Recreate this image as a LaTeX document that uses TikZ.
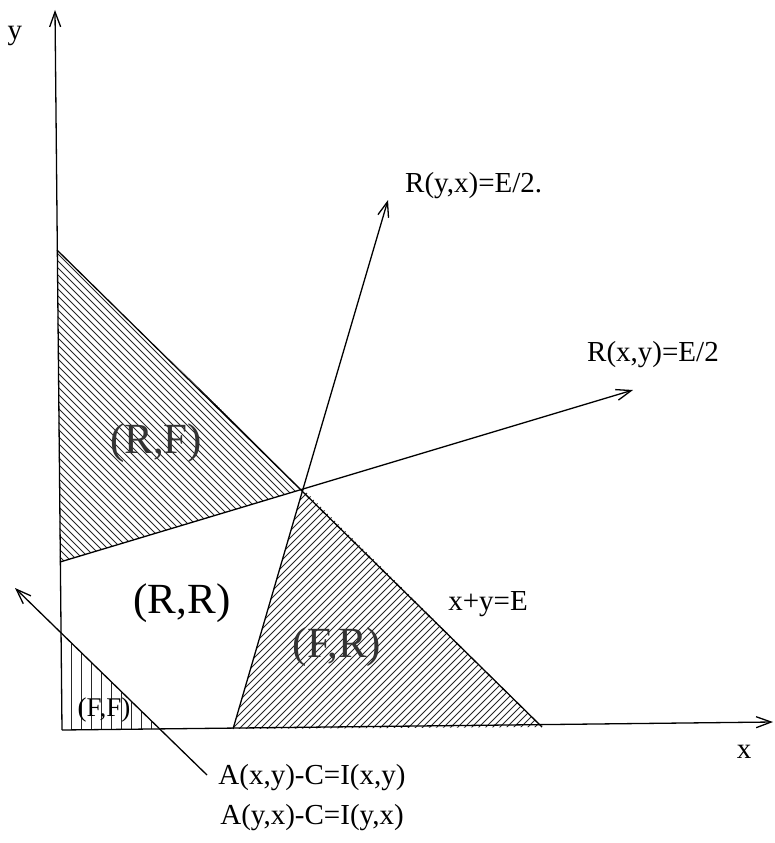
\documentclass[tikz,border=0pt]{standalone}
\usepackage{fontspec}
\setmainfont{Liberation Serif}
\usetikzlibrary{arrows.meta}

\begin{document}
\begin{tikzpicture}[
  x=1pt, y=-1pt,
  font=\fontsize{29}{34}\selectfont,
  linea/.style={draw=black, line width=1.3pt},
  freccia/.style={linea, -{Straight Barb[length=15pt,width=11pt,line width=1.3pt]}},
  tratto/.style={draw=black!85, line width=0.8pt},
  regione/.style={font=\fontsize{43}{48}\selectfont, text=black!80},
  etichetta/.style={inner sep=0pt}
]
\useasboundingbox (0,0) rectangle (774,843);

%--------------------------------------------------------------
% Punti notevoli
%--------------------------------------------------------------
\coordinate (O)  at (62,730);
\coordinate (Ymax) at (55,10);
\coordinate (Xmax) at (773,722);
\coordinate (Ey) at (57,250);
\coordinate (Ex) at (542,727);
\coordinate (P)  at (303,489);
\coordinate (Ry) at (60,562);
\coordinate (Rx) at (233,729);
\coordinate (Rxy) at (633,390);
\coordinate (Ryx) at (388,200);
\coordinate (Ia) at (15,588);
\coordinate (Ib) at (207,775);
\coordinate (Fy) at (61,633);
\coordinate (Fx) at (159,729);

%--------------------------------------------------------------
% Tratteggi delle regioni
%--------------------------------------------------------------
\begin{scope}
  \clip (Ey) -- (P) -- (Ry) -- cycle;
  \foreach \c in {-360,-353,...,310}
    \draw[tratto] (\c,200) -- ++(400,400);
\end{scope}

\begin{scope}
  \clip (P) -- (Rx) -- (Ex) -- cycle;
  \foreach \c in {-80,-73,...,550}
    \draw[tratto] (\c,740) -- ++(300,-300);
\end{scope}

\begin{scope}
  \clip (Fy) -- (O) -- (Fx) -- cycle;
  \foreach \c in {71,81,...,151}
    \draw[tratto, line width=1pt] (\c,600) -- (\c,740);
\end{scope}

%--------------------------------------------------------------
% Assi e rette
%--------------------------------------------------------------
\draw[freccia] (O) -- (Ymax);
\draw[freccia] (O) -- (Xmax);
\draw[linea] (Ey) -- (Ex);
\draw[freccia] (Ry) -- (P) -- (Rxy);
\draw[freccia] (Rx) -- (P) -- (Ryx);
\draw[freccia, {Straight Barb[length=15pt,width=11pt,line width=1.3pt]}-] (Ia) -- (Ib);

%--------------------------------------------------------------
% Etichette
%--------------------------------------------------------------
\node[etichetta] (ly) at (15,36) {y};
\node[etichetta] (lx) at (744,752) {x};
\node[etichetta, anchor=west] (lryx) at (405,186) {R(y,x)=E/2.};
\node[etichetta, anchor=west] (lrxy) at (587,355) {R(x,y)=E/2};
\node[etichetta] (lsum) at (488,604) {x+y=E};
\node[etichetta] (lia) at (312,778) {A(x,y)-C=I(x,y)};
\node[etichetta] (lib) at (312,818) {A(y,x)-C=I(y,x)};

\node[regione] (rf) at (156,443) {(R,F)};
\node[regione, text=black] (rr) at (182,603) {(R,R)};
\node[regione] (fr) at (337,647) {(F,R)};
\node[regione, text=black, font=\fontsize{27}{30}\selectfont] (ff) at (104,710) {(F,F)};

\end{tikzpicture}
\end{document}
